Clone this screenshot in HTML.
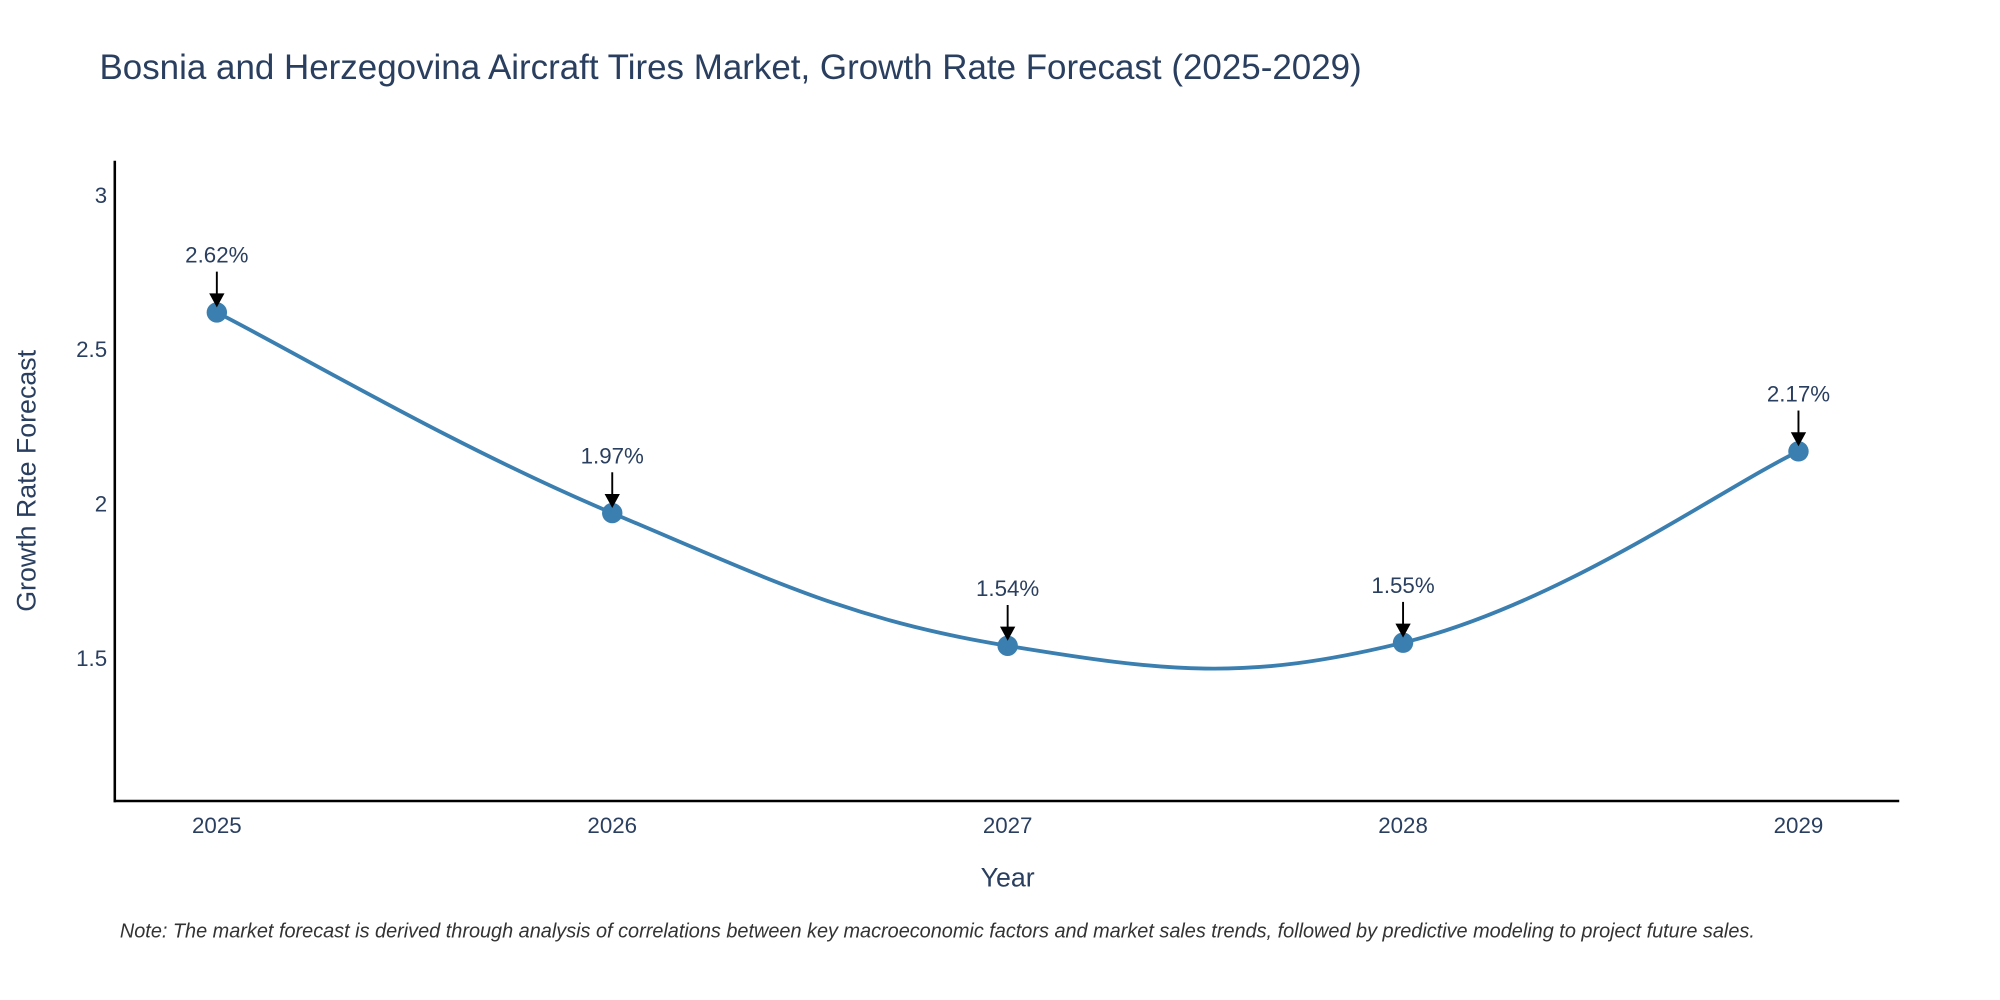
<!DOCTYPE html>
<html><head><meta charset="utf-8"><style>
html,body{margin:0;padding:0;background:#fff;}
svg{display:block;font-family:"Liberation Sans",sans-serif;}
</style></head><body>
<svg id="chart" width="2000" height="1000" viewBox="0 0 1568 784" xmlns="http://www.w3.org/2000/svg">
<text x="78" y="62" font-size="27.4" fill="#2a3f5f">Bosnia and Herzegovina Aircraft Tires Market, Growth Rate Forecast (2025-2029)</text>
<g id="yticks"></g>
<g id="xticks"></g>
<line x1="90" y1="126" x2="90" y2="629" stroke="#000" stroke-width="2"/>
<line x1="89" y1="628" x2="1489" y2="628" stroke="#000" stroke-width="2"/>
<g id="series"></g>
<g id="annots"></g>
<text transform="translate(28,377) rotate(-90)" text-anchor="middle" font-size="21" fill="#2a3f5f">Growth Rate Forecast</text>
<text x="790" y="695" text-anchor="middle" font-size="21" fill="#2a3f5f">Year</text>
<text x="94" y="735" font-size="15.6" font-style="italic" fill="#333">Note: The market forecast is derived through analysis of correlations between key macroeconomic factors and market sales trends, followed by predictive modeling to project future sales.</text>
</svg>
<script>
const years=[2025,2026,2027,2028,2029];
const values=[2.62,1.97,1.54,1.55,2.17];
const labels=["2.62%","1.97%","1.54%","1.55%","2.17%"];
const yTickVals=[1.5,2,2.5,3];
const yTickLabels=["1.5","2","2.5","3"];
const NS="http://www.w3.org/2000/svg";
function xs(v){return 170+(v-2025)*310;}
function ys(v){return 153+(3-v)*242;}
function mk(tag,attrs,parent){const e=document.createElementNS(NS,tag);for(const k in attrs)e.setAttribute(k,attrs[k]);parent.appendChild(e);return e;}
const yt=document.getElementById('yticks');
yTickVals.forEach((v,i)=>{const t=mk('text',{x:84,y:ys(v)+6,'text-anchor':'end','font-size':17.5,fill:'#2a3f5f'},yt);t.textContent=yTickLabels[i];

});
const xt=document.getElementById('xticks');
years.forEach(y=>{const t=mk('text',{x:xs(y),y:653,'text-anchor':'middle','font-size':17.5,fill:'#2a3f5f'},xt);t.textContent=String(y);

});
const pts=years.map((y,i)=>[xs(y),ys(values[i])]);
let d='M'+pts[0][0]+','+pts[0][1];
const s=0.2;
for(let i=0;i<pts.length-1;i++){const p0=pts[i-1]||pts[i],p1=pts[i],p2=pts[i+1],p3=pts[i+2]||pts[i+1];
const c1=[p1[0]+(p2[0]-p0[0])*s,p1[1]+(p2[1]-p0[1])*s];
const c2=[p2[0]-(p3[0]-p1[0])*s,p2[1]-(p3[1]-p1[1])*s];
d+=' C'+c1[0]+','+c1[1]+' '+c2[0]+','+c2[1]+' '+p2[0]+','+p2[1];}
const se=document.getElementById('series');
const ln=mk('path',{d:d,fill:'none',stroke:'#3a7fb0','stroke-width':3},se);


const an=document.getElementById('annots');
pts.forEach((p,i)=>{const c=mk('circle',{cx:p[0],cy:p[1],r:8,fill:'#3a7fb0'},se);


const a=mk('line',{x1:p[0],y1:p[1]-32,x2:p[0],y2:p[1]-14,stroke:'#000','stroke-width':1.5},an);


const h=mk('polygon',{points:(p[0]-6)+','+(p[1]-15)+' '+(p[0]+6)+','+(p[1]-15)+' '+p[0]+','+(p[1]-4),fill:'#000'},an);


const t=mk('text',{x:p[0],y:p[1]-39,'text-anchor':'middle','font-size':17.5,fill:'#2a3f5f'},an);t.textContent=labels[i];

});
</script>
</body></html>
